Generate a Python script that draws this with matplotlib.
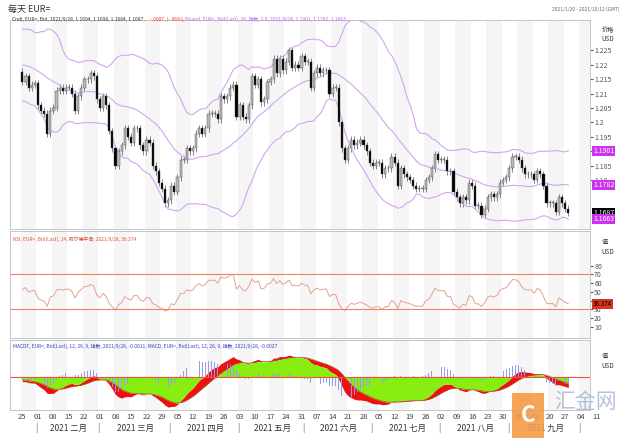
import numpy as np
import pandas as pd
import matplotlib.pyplot as plt
from matplotlib.patches import Rectangle

plt.rcParams['font.family'] = ['Noto Sans CJK SC', 'DejaVu Sans']

# ---------------------- DATA ----------------------
# closes before the visible window (warm up for bands / rsi / macd)
prior_closes = [1.2150, 1.2180, 1.2200, 1.2250, 1.2270, 1.2240, 1.2210, 1.2230,
                1.2215, 1.2180, 1.2230, 1.2250, 1.2300, 1.2340, 1.2270, 1.2215,
                1.2150, 1.2160, 1.2160, 1.2080, 1.2075, 1.2130, 1.2170, 1.2165,
                1.2170, 1.2175]

closes = [
    1.2140, 1.2160, 1.2120, 1.2130, 1.2135,
    1.2060, 1.2040, 1.2030, 1.1960, 1.2040,
    1.2050, 1.2110, 1.2120, 1.2110, 1.2120,
    1.2120, 1.2100, 1.2040, 1.2090, 1.2120,
    1.2150, 1.2150, 1.2170, 1.2160, 1.2080,
    1.2050, 1.2090, 1.2060, 1.1970, 1.1910,
    1.1850, 1.1900, 1.1920, 1.1980, 1.1950,
    1.1930, 1.1980, 1.1980, 1.1920, 1.1900,
    1.1940, 1.1930, 1.1850, 1.1830, 1.1790,
    1.1770, 1.1720, 1.1730, 1.1780, 1.1760,
    1.1810, 1.1870, 1.1870, 1.1910, 1.1900,
    1.1910, 1.1960, 1.1980, 1.1960, 1.1980,
    1.2030, 1.2030, 1.2030, 1.2010, 1.2090,
    1.2080, 1.2090, 1.2120, 1.2130, 1.2020,
    1.2060, 1.2020, 1.2010, 1.2060, 1.2160,
    1.2130, 1.2150, 1.2070, 1.2080, 1.2140,
    1.2150, 1.2220, 1.2170, 1.2220, 1.2180,
    1.2210, 1.2250, 1.2190, 1.2200, 1.2190,
    1.2230, 1.2210, 1.2210, 1.2120, 1.2170,
    1.2190, 1.2170, 1.2180, 1.2180, 1.2100,
    1.2120, 1.2120, 1.2000, 1.1910, 1.1870,
    1.1910, 1.1940, 1.1920, 1.1930, 1.1940,
    1.1920, 1.1900, 1.1860, 1.1850, 1.1860,
    1.1860, 1.1820, 1.1840, 1.1840, 1.1880,
    1.1860, 1.1780, 1.1840, 1.1820, 1.1810,
    1.1800, 1.1780, 1.1770, 1.1770, 1.1770,
    1.1800, 1.1810, 1.1840, 1.1890, 1.1870,
    1.1870, 1.1870, 1.1830, 1.1830, 1.1760,
    1.1740, 1.1720, 1.1740, 1.1730, 1.1790,
    1.1780, 1.1710, 1.1710, 1.1680, 1.1700,
    1.1740, 1.1750, 1.1740, 1.1750, 1.1790,
    1.1800, 1.1810, 1.1840, 1.1880, 1.1880,
    1.1870, 1.1840, 1.1820, 1.1820, 1.1820,
    1.1800, 1.1830, 1.1820, 1.1780, 1.1720,
    1.1720, 1.1720, 1.1690, 1.1740, 1.1720,
    1.1700, 1.1687,
]

month_names = ['2021 二月', '2021 三月', '2021 四月', '2021 五月',
               '2021 六月', '2021 七月', '2021 八月', '2021 九月']
rsi_ticks = [10, 20, 30, 40, 50, 60, 70, 80]
price_ticks = [1.18, 1.185, 1.19, 1.195, 1.2, 1.205, 1.21, 1.215, 1.22, 1.225]

# ---------------------- INDICATORS ----------------------
allc = pd.Series(prior_closes + closes)
npre = len(prior_closes)
mid = allc.rolling(26, min_periods=5).mean()
sd = allc.rolling(26, min_periods=5).std(ddof=1)
upper = (mid + 2 * sd).values[npre:]
lower = (mid - 2 * sd).values[npre:]
mid = mid.values[npre:]

delta = allc.diff()
gain = delta.clip(lower=0).ewm(alpha=1 / 14, adjust=False).mean()
loss = (-delta.clip(upper=0)).ewm(alpha=1 / 14, adjust=False).mean()
rsi = (100 - 100 / (1 + gain / loss)).values[npre:]

macd = (allc.ewm(span=12, adjust=False).mean() - allc.ewm(span=26, adjust=False).mean())
signal = macd.ewm(span=9, adjust=False).mean()
macd = macd.values[npre:]
signal = signal.values[npre:]
hist = macd - signal

c = np.array(closes)
o = np.r_[prior_closes[-1], c[:-1]]
dates = pd.bdate_range('2021-01-25', periods=len(c))
idx = np.arange(len(c))

# ---------------------- FIGURE ----------------------
fig = plt.figure(figsize=(6.29, 4.41), dpi=100)
W, H = 629, 441
L, R = 10, 590


def mkax(top, bot):
    return fig.add_axes([L / W, 1 - bot / H, (R - L) / W, (bot - top) / H])


ax1 = mkax(20, 229)
ax2 = mkax(231, 338)
ax3 = mkax(340, 410)
xmin, xmax = -4, 183

mondays = [i for i, d in enumerate(dates) if d.weekday() == 0]
mondays_ext = mondays + [mondays[-1] + 5, mondays[-1] + 10]
for ax in (ax1, ax2, ax3):
    ax.set_xlim(xmin, xmax)
    for k, m in enumerate(mondays_ext):
        if k % 2 == 0:
            ax.axvspan(m - 0.5, m + 4.5, color='#f5f5f5', lw=0, zorder=0)
    ax.set_xticks([])
    ax.yaxis.tick_right()
    ax.tick_params(axis='y', labelsize=5, colors='#555555', length=2, pad=1)
    for s in ax.spines.values():
        s.set_color('#bbbbbb')
        s.set_linewidth(0.6)

# price panel
for i in idx:
    lo, hi = min(o[i], c[i]), max(o[i], c[i])
    col = 'black' if c[i] < o[i] else '#bbbbbb'
    ax1.vlines(i, lo - 0.0012, hi + 0.0012, color='#555555', lw=0.5, zorder=2)
    ax1.add_patch(Rectangle((i - 0.35, lo), 0.7, max(hi - lo, 0.0002),
                            facecolor=col, edgecolor='#444444', lw=0.3, zorder=3))
ax1.plot(idx, upper, color='#d4a4f0', lw=0.8)
ax1.plot(idx, mid, color='#d4a4f0', lw=0.8)
ax1.plot(idx, lower, color='#d4a4f0', lw=0.8)
ax1.set_ylim(1.163, 1.2355)
ax1.set_yticks(price_ticks)
ax1.set_yticklabels(['%g' % t for t in price_ticks])
for val, fc, tc in [(upper[-1], '#cc33ee', 'white'), (mid[-1], '#cc33ee', 'white'),
                    (c[-1], 'black', 'white'), (lower[-1], '#cc33ee', 'white')]:
    ax1.text(1.005, (val - 1.163) / (1.2355 - 1.163), '%.4f' % val, transform=ax1.transAxes,
             fontsize=5, color=tc, va='center', ha='left', zorder=10,
             bbox=dict(boxstyle='square,pad=0.15', fc=fc, ec='none'))
ax1.text(1.02, 0.93, '价格\nUSD', transform=ax1.transAxes, fontsize=4.5, va='center', color='#333333')

# rsi panel
ax2.plot(idx, rsi, color='#e8a090', lw=0.7)
ax2.axhline(70, color='#f08060', lw=0.8)
ax2.axhline(30, color='#f08060', lw=0.8)
ax2.set_ylim(-3, 120)
ax2.set_yticks(rsi_ticks)
ax2.text(1.005, (rsi[-1] + 3) / 123, '%.3f' % rsi[-1], transform=ax2.transAxes, fontsize=4.5,
         color='black', va='center', zorder=10,
         bbox=dict(boxstyle='square,pad=0.15', fc='#dd3322', ec='none'))
ax2.text(0.005, 0.95, 'RSI, EUR=, Bid(Last), 14, 威尔德平滑, 2021/9/28, %.3f' % rsi[-1],
         transform=ax2.transAxes, fontsize=3.5, color='#dd5533', va='top')
ax2.text(1.02, 0.85, '值\nUSD', transform=ax2.transAxes, fontsize=4.5, va='center', color='#333333')

# macd panel
zero = np.zeros_like(macd)
inner = np.where(np.abs(macd) < np.abs(signal), macd, signal)
inner = np.where(np.sign(macd) == np.sign(signal), inner, 0)
ax3.fill_between(idx, macd, signal, color='#ee1111', lw=0)
ax3.fill_between(idx, zero, inner, color='#88ee11', lw=0)
ax3.bar(idx, hist * 1.5, width=0.25, color='#9999ee', zorder=1)
ax3.plot(idx, signal, color='#aa5522', lw=0.5)
ax3.axhline(0, color='#ee5533', lw=0.8)
m = np.abs(macd).max()
ax3.set_ylim(-1.1 * m, 1.25 * m)
ax3.set_yticks([])
ax3.text(0.005, 0.95, 'MACDF, EUR=, Bid(Last), 12, 26, 9, 指数, 2021/9/28, %.4f, '
         'MACD, EUR=, Bid(Last), 12, 26, 9, 指数, 2021/9/28, %.4f' % (hist[-1], macd[-1]),
         transform=ax3.transAxes, fontsize=3.5, color='#3344cc', va='top')
ax3.text(1.02, 0.7, '值\nUSD', transform=ax3.transAxes, fontsize=4.5, va='center', color='#333333')

# date axis
for k, mdx in enumerate(mondays_ext):
    x = (L + (mdx - xmin) / (xmax - xmin) * (R - L)) / W
    d = dates[0] + pd.Timedelta(days=7 * k)
    fig.text(x, 1 - 417 / H, d.strftime('%d'), fontsize=5.5, ha='center', va='center', color='#444444')
month_starts = [i for i in range(1, len(dates)) if dates[i].month != dates[i - 1].month] + [len(dates) + 3]
for k in range(len(month_starts)):
    a = month_starts[k]
    xa = (L + (a - 0.5 - xmin) / (xmax - xmin) * (R - L)) / W
    fig.text(xa, 1 - 428 / H, '|', fontsize=6, ha='center', va='center', color='#555555')
    if k + 1 < len(month_starts):
        b = month_starts[k + 1]
        xm = (L + ((a + b) / 2 - xmin) / (xmax - xmin) * (R - L)) / W
        fig.text(xm, 1 - 428 / H, month_names[k], fontsize=6, ha='center', va='center', color='#333333')

# headers
fig.text(8 / W, 1 - 9 / H, '每天 EUR=', fontsize=6.5, va='center', color='#333333')
fig.text(620 / W, 1 - 9 / H, '2021/1/20 - 2021/10/12 (GMT)', fontsize=3.5, va='center', ha='right', color='#666666')
fig.text(12 / W, 1 - 19 / H, 'Cndl, EUR=, Bid, 2021/9/28, 1.1694, 1.1698, 1.1684, 1.1687, ', fontsize=3.5,
         va='center', color='#333333')
fig.text(150 / W, 1 - 19 / H, '-.0007, (-.06%), ', fontsize=3.5, va='center', color='#ee3333')
fig.text(185 / W, 1 - 19 / H, 'Bband, EUR=, Bid(Last), 26, 指数, 2.0, 2021/9/28, %.4f, %.4f, %.4f'
         % (upper[-1], mid[-1], lower[-1]), fontsize=3.5, va='center', color='#bb66ee')

# watermark
fig.patches.append(Rectangle((512 / W, 1 - 438 / H), 32 / W, 45 / H, transform=fig.transFigure,
                             facecolor='#f59a45', edgecolor='none', alpha=0.9, zorder=5))
fig.text(528 / W, 1 - 416 / H, 'C', fontsize=16, color='white', ha='center', va='center',
         weight='bold', zorder=6)
fig.text(585 / W, 1 - 402 / H, '汇金网', fontsize=15, color='#a8b8d8', ha='center', va='center',
         alpha=0.85, zorder=6)

fig.savefig('out.png', dpi=100)
